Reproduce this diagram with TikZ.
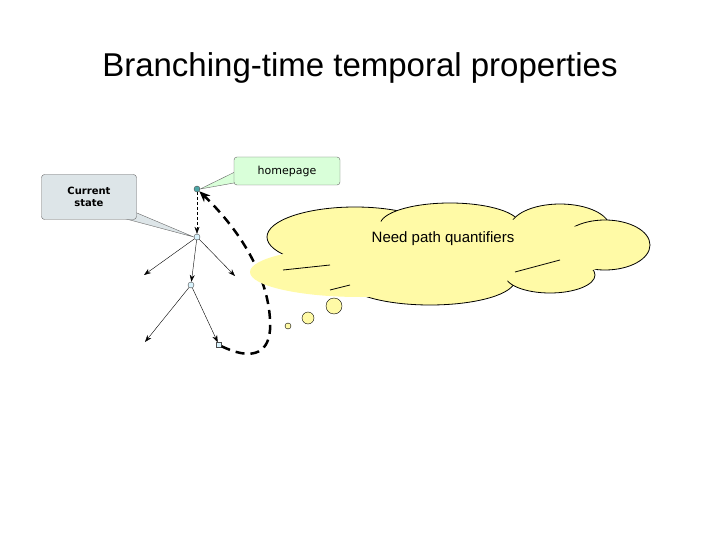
\documentclass[tikz,border=0pt]{standalone}
\usepackage{fontspec}
\setmainfont{Liberation Sans}
\newfontfamily\tahoma{DejaVu Sans}
\usetikzlibrary{arrows.meta}
\begin{document}
\begin{tikzpicture}[x=1pt,y=-1pt,
  dot/.style={circle,draw=black!70,fill=#1,inner sep=0pt,minimum size=6pt},
  arr/.style={-{Stealth[length=7pt,width=5pt]},thin},
  lobe/.style={draw=black,fill=yellow!35,thick},
  bubble/.style={draw=black,fill=yellow!35}]
\useasboundingbox (0,0) rectangle (720,540);
\node (title) at (360,68) {\fontsize{33}{38}\selectfont Branching-time temporal properties};
% nodes
\node[dot=teal!70] (h) at (197,189) {};
\node[dot=cyan!15] (c) at (197,237) {};
\node[dot=cyan!15] (d) at (191,285) {};
\node[rectangle,draw=black!70,fill=cyan!15,inner sep=0pt,minimum size=5pt] (e) at (219,345) {};
\coordinate (l1) at (144,275);
\coordinate (r1) at (235,276);
\coordinate (l2) at (145,342);
% callouts
\fill[cyan!20!gray!25] (100,212) -- (c.west) -- (118,205) -- cycle;
\draw[black!60] (100,212) -- (c.west) -- (118,205);
\node[draw=black!60,fill=cyan!20!gray!25,rounded corners=3pt,minimum width=95pt,minimum height=45pt,align=center,font=\tahoma\bfseries\fontsize{10}{12}\selectfont] (cs) at (89,197) {Current\\state};
\fill[green!15] (243,168) -- (h.east) -- (262,178) -- cycle;
\draw[black!60] (243,168) -- (h.east) -- (262,178);
\node[draw=black!60,fill=green!15,rounded corners=3pt,minimum width=106pt,minimum height=28pt,font=\tahoma\fontsize{11}{13}\selectfont] (hp) at (287,171) {homepage};
\fill[green!15] (236,170) rectangle (250,180);
% edges
\draw[arr,densely dashed] (h) -- (c);
\draw[arr] (c) -- (l1);
\draw[arr] (c) -- (r1);
\draw[arr] (c) -- (d);
\draw[arr] (d) -- (l2);
\draw[arr] (d) -- (e);
\draw[line width=2.5pt,dash pattern=on 9pt off 6pt,-{Stealth[length=11pt,width=9pt]}] (e) .. controls (250,360) and (268,355) .. (270,330) .. controls (272,290) and (250,240) .. (h);
% cloud
\begin{scope}
\draw[lobe] (355,237) ellipse (88 and 30);
\draw[lobe] (450,225) ellipse (70 and 22);
\draw[lobe] (560,228) ellipse (50 and 24);
\draw[lobe] (605,245) ellipse (45 and 25);
\draw[lobe] (330,270) ellipse (60 and 20);
\draw[lobe] (430,280) ellipse (85 and 25);
\draw[lobe] (550,275) ellipse (45 and 18);
\fill[yellow!35] (360,272) ellipse (110 and 25);
\fill[yellow!35] (460,250) ellipse (170 and 32);
\draw[thick] (283,270) -- (330,265);
\draw[thick] (330,290) -- (350,285);
\draw[thick] (515,272) -- (560,260);
\end{scope}
\node[font=\fontsize{15}{18}\selectfont] (q) at (443,239) {Need path quantifiers};
\draw[bubble] (288,326) circle (3);
\draw[bubble] (308,318) circle (6);
\draw[bubble] (334,306) circle (8);
\end{tikzpicture}
\end{document}
